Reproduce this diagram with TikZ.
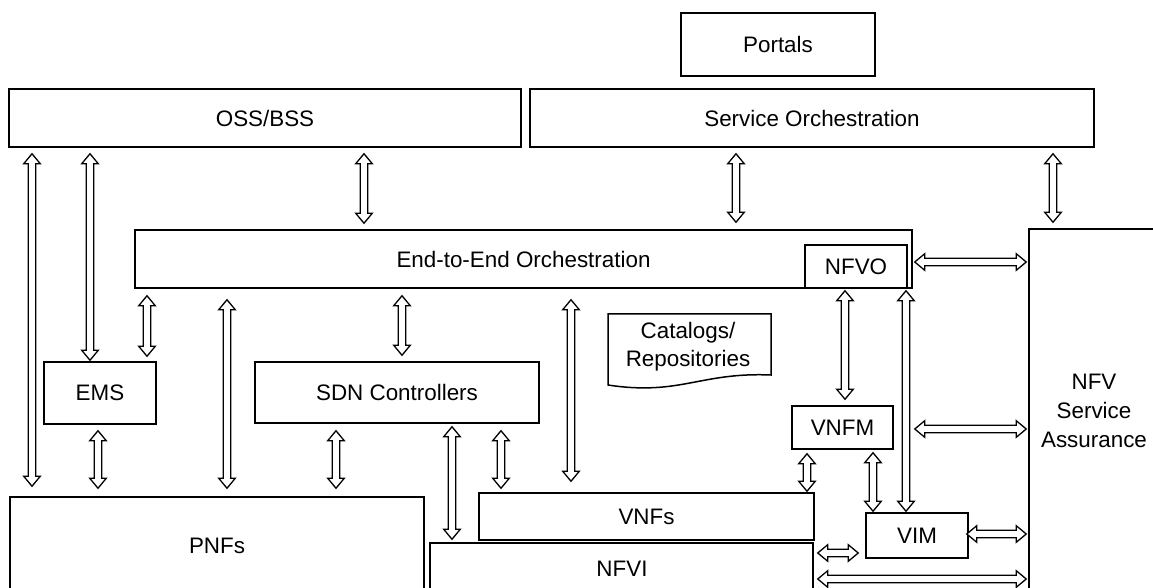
\documentclass[tikz,border=0pt]{standalone}
\usepackage{fontspec}
\setmainfont{Liberation Sans}
\usetikzlibrary{calc}

% hollow double-headed arrow between two points
\newcommand\hdlen{5pt}
\newcommand\hdwid{4.15pt}
\newcommand\shwid{1.85pt}
\newcommand\biarrow[2]{%
  \path #1 coordinate (dA);
  \path #2 coordinate (dB);
  \coordinate (hA) at ($(dA)!\hdlen!(dB)$);
  \coordinate (hB) at ($(dB)!\hdlen!(dA)$);
  \draw[dblarrow] (dA)
    -- ($(hA)!\hdwid!90:(dB)$) -- ($(hA)!\shwid!90:(dB)$)
    -- ($(hB)!\shwid!-90:(dA)$) -- ($(hB)!\hdwid!-90:(dA)$)
    -- (dB)
    -- ($(hB)!\hdwid!90:(dA)$) -- ($(hB)!\shwid!90:(dA)$)
    -- ($(hA)!\shwid!-90:(dB)$) -- ($(hA)!\hdwid!-90:(dB)$)
    -- cycle;
}

\tikzset{
  box/.style={draw, line width=0.75pt, rectangle, inner sep=0pt,
    font=\fontsize{11.2}{14}\selectfont},
  lbl/.style={inner sep=0pt, align=center, font=\fontsize{11.2}{14}\selectfont},
  dblarrow/.style={draw, line width=0.65pt, fill=white, line join=miter},
}

\begin{document}
\begin{tikzpicture}[x=0.5pt, y=-0.5pt]
\useasboundingbox (0,0) rectangle (1153,588);
\clip (0,0) rectangle (1153,588);

% top layer
\node[box, minimum width=97pt, minimum height=31.5pt] (portals) at (778,44.5) {Portals};
\node[box, minimum width=256pt, minimum height=29pt] (oss) at (265,118) {OSS/BSS};
\node[box, minimum width=282pt, minimum height=29pt] (so) at (812,118) {Service Orchestration};

% orchestration layer
\node[box, minimum width=388.5pt, minimum height=29pt] (e2e) at (523.5,259) {End-to-End Orchestration};
\node[box, minimum width=51pt, minimum height=21.5pt] (nfvo) at (856,266.5) {NFVO};

% service assurance (runs off the right and bottom edges)
\node[box, minimum width=85.5pt, minimum height=210.5pt] (nfvsa) at (1114.5,439.5) {};
\node[lbl, font=\fontsize{11.2}{14.5}\selectfont] (nfvsatext) at (1094,411) {NFV\\Service\\Assurance};

% controllers and managers
\node[box, minimum width=56pt, minimum height=31pt] (ems) at (100,393) {EMS};
\node[box, minimum width=142pt, minimum height=30.5pt] (sdn) at (397,392.5) {SDN Controllers};
\node[box, minimum width=50.5pt, minimum height=21.5pt] (vnfm) at (842.5,427.5) {VNFM};
\node[box, minimum width=51pt, minimum height=22.5pt] (vim) at (917,535.5) {VIM};

% catalogs document shape
\draw[line width=0.75pt] (608,314) -- (771,314) -- (771,375)
  .. controls (700,372) and (680,396) .. (608,385) -- cycle;
\node[lbl] (catalogs) at (688,347) {Catalogs/\\Repositories};

% network functions and infrastructure
\node[box, minimum width=167.5pt, minimum height=23.5pt] (vnfs) at (646.5,516.5) {VNFs};
\node[box, minimum width=207pt, minimum height=76.5pt] (pnfs) at (217,573.5) {};
\node[lbl] (pnfstext) at (217,546) {PNFs};
\node[box, minimum width=191.5pt, minimum height=53.5pt] (nfvi) at (621.5,596.5) {};
\node[lbl] (nfvitext) at (622,569) {NFVI};

% interfaces from OSS/BSS and Service Orchestration
\biarrow{($(oss.south -| 32,0)+(0,6)$)}{($(pnfs.north -| 32,0)+(0,-10)$)}
\biarrow{($(oss.south -| 90,0)+(0,6)$)}{($(ems.north -| 90,0)+(0,-1)$)}
\biarrow{($(oss.south -| 364,0)+(0,6)$)}{($(e2e.north -| 364,0)+(0,-6)$)}
\biarrow{($(so.south -| 736,0)+(0,6)$)}{($(e2e.north -| 736,0)+(0,-7)$)}
\biarrow{($(so.south -| 1053,0)+(0,6)$)}{($(nfvsa.north -| 1053,0)+(0,-6)$)}

% interfaces from End-to-End Orchestration
\biarrow{($(e2e.south -| 147,0)+(0,7)$)}{($(ems.north -| 147,0)+(0,-5)$)}
\biarrow{($(e2e.south -| 227,0)+(0,11)$)}{($(pnfs.north -| 227,0)+(0,-8)$)}
\biarrow{($(e2e.south -| 402,0)+(0,7)$)}{($(sdn.north -| 402,0)+(0,-6)$)}
\biarrow{($(e2e.south -| 571,0)+(0,11)$)}{($(vnfs.north -| 571,0)+(0,-11)$)}
\biarrow{($(nfvo.south -| 845,0)+(0,2)$)}{($(vnfm.north -| 845,0)+(0,-6)$)}
\biarrow{($(nfvo.south -| 906,0)+(0,2)$)}{($(vim.north -| 906,0)+(0,-1)$)}
\biarrow{($(nfvo.east |- 0,262)+(7,0)$)}{($(nfvsa.west |- 0,262)+(-2,0)$)}

% southbound interfaces
\biarrow{($(ems.south -| 98,0)+(0,6)$)}{($(pnfs.north -| 98,0)+(0,-8)$)}
\biarrow{($(sdn.south -| 336,0)+(0,7)$)}{($(pnfs.north -| 336,0)+(0,-8)$)}
\biarrow{($(sdn.south -| 452,0)+(0,3)$)}{($(nfvi.north -| 452,0)+(0,-3)$)}
\biarrow{($(sdn.south -| 501,0)+(0,7)$)}{($(vnfs.north -| 501,0)+(0,-4)$)}
\biarrow{($(vnfm.south -| 807,0)+(0,4)$)}{($(vnfs.north -| 807,0)+(0,-1)$)}
\biarrow{($(vnfm.south -| 873,0)+(0,3)$)}{($(vim.north -| 873,0)+(0,-1)$)}

% links to service assurance
\biarrow{($(vnfm.east |- 0,429)+(21,0)$)}{($(nfvsa.west |- 0,429)+(-2,0)$)}
\biarrow{($(vim.east |- 0,534)+(-2,0)$)}{($(nfvsa.west |- 0,534)+(-2,0)$)}
\biarrow{($(nfvi.east |- 0,553)+(4,0)$)}{($(vim.west |- 0,553)+(-7,0)$)}
\biarrow{($(nfvi.east |- 0,579)+(4,0)$)}{($(nfvsa.west |- 0,579)+(-2,0)$)}
\end{tikzpicture}
\end{document}
